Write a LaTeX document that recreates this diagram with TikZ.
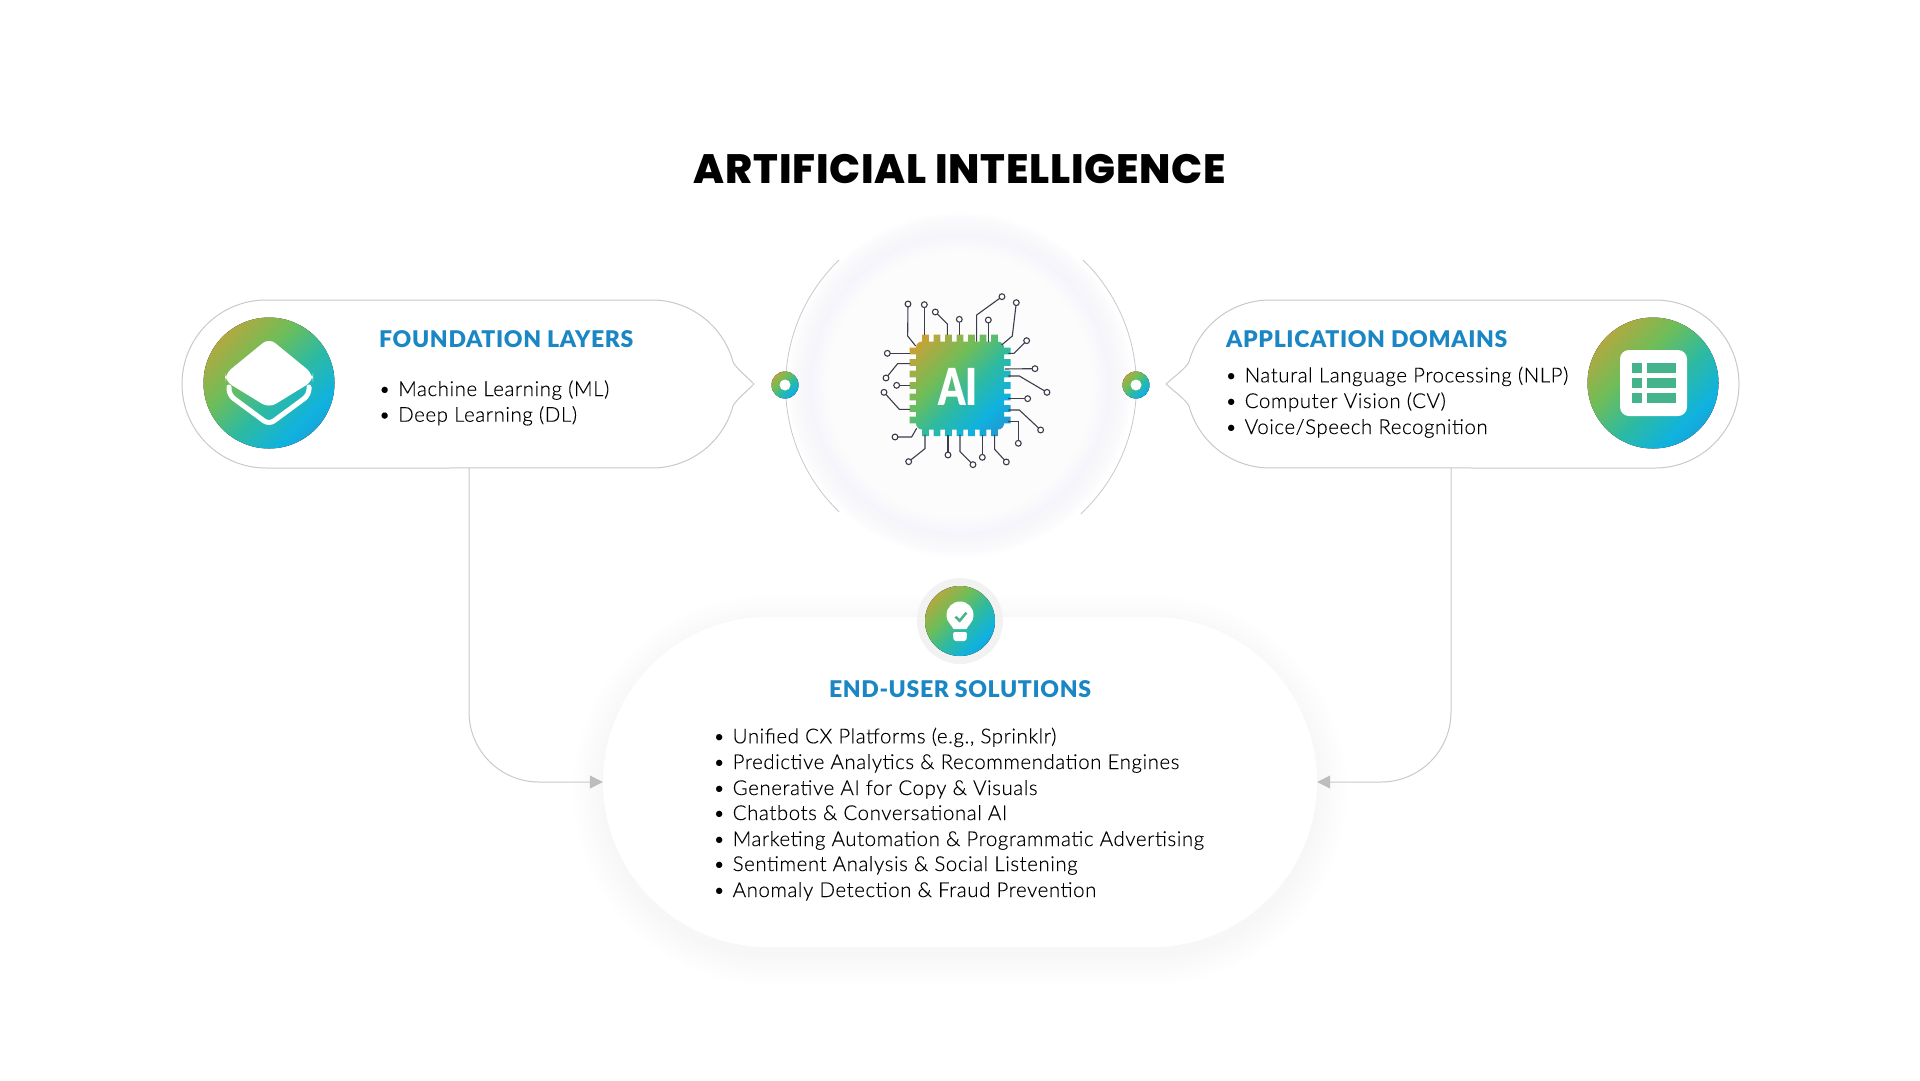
\documentclass[tikz,border=0pt]{standalone}
\usepackage{fontspec}
\setmainfont{Lato}
\newfontfamily\lightfont[LetterSpace=2.7,FakeBold=0.15]{Lato Light}
\newfontfamily\heavyfont[LetterSpace=2.8]{Lato Black}
\newfontfamily\chipfont{Lato Black}
\newfontfamily\blackfont[LetterSpace=1.85]{Poppins ExtraBold}
\usepackage{tikz}
\usetikzlibrary{arrows.meta}
\usetikzlibrary{positioning}
\definecolor{headblue}{HTML}{1A86C4}
\definecolor{lineblack}{HTML}{3C3C4A}
\definecolor{pillgrey}{HTML}{C9C9C9}
\definecolor{arrowgrey}{HTML}{BDBDBD}
\definecolor{glowlav}{HTML}{E9E9FB}
\definecolor{iconteal}{HTML}{45B48C}
\definecolor{gradgold}{HTML}{D89B28}
\definecolor{gradolive}{HTML}{B5A83F}
\definecolor{gradgreen}{HTML}{6FBD58}
\definecolor{gradteal}{HTML}{2EBAA0}
\definecolor{gradsky}{HTML}{0FB2E0}
\definecolor{graddeep}{HTML}{2A8CC8}
\pgfdeclarehorizontalshading{aigrad}{100bp}{color(0bp)=(gradgold);color(18bp)=(gradgold);
  color(24bp)=(gradolive);color(40bp)=(gradgreen);
  color(55bp)=(gradteal);color(70bp)=(gradsky);
  color(85bp)=(graddeep);color(100bp)=(graddeep)}
\tikzset{
  aifill/.style={shading=aigrad, shading angle=-45},
  pill/.style={draw=pillgrey, line width=1pt, fill=white},
  flow/.style={draw=pillgrey, line width=1pt, rounded corners=70pt, -{Triangle[length=13pt,width=13pt,fill=arrowgrey,color=arrowgrey]}},
  headtext/.style={anchor=base west, inner sep=0, text=headblue, font=\fontsize{23}{23}\selectfont\heavyfont},
  bodytext/.style={anchor=base west, inner sep=0, text=black, font=\fontsize{20.5}{20.5}\selectfont\lightfont},
  trace/.style={draw=lineblack, line width=1.1pt},
  pad/.style={draw=lineblack, line width=1.1pt, fill=white}
}
\newcommand\bulleted[1]{\makebox[19.5pt][l]{•}#1}
\newcommand\ringdot[1]{
  \fill[aifill] #1 circle (13.5pt);
  \fill[white] #1 circle (5.5pt);
}
\begin{document}
\begin{tikzpicture}[x=1pt, y=1pt]
  \useasboundingbox (0,0) rectangle (1920,-1080);
  \fill[white] (0,0) rectangle (1920,-1080);

  \foreach \g in {172,169,...,145}
    \fill[glowlav, opacity=0.05] (960,-385) circle (\g pt);
  \foreach \g in {148,145,...,127}
    \fill[white, opacity=0.25] (960,-385) circle (\g pt);
  \draw[pillgrey, line width=0.8pt] (839,-260) arc (134:226:175);
  \draw[pillgrey, line width=0.8pt] (1083,-260) arc (46:-47:175);

  \draw[pill] (266,-300) -- (652,-300) arc (90:15.2:84)
    .. controls (736,-368) and (746,-376) .. (754,-384)
    .. controls (746,-392) and (736,-400) .. (733,-406)
    arc (-15.2:-90:84) -- (266,-468) arc (270:90:84) -- cycle;
  \draw[pill] (1655,-300) -- (1270,-300) arc (90:164.8:84)
    .. controls (1186,-368) and (1175,-376) .. (1166,-384)
    .. controls (1175,-392) and (1186,-400) .. (1189,-406)
    arc (195.2:270:84) -- (1655,-468) arc (-90:90:84) -- cycle;
  \coordinate (foundout) at (469,-468);
  \coordinate (appout) at (1451,-468);

  \foreach \g in {2,6,...,30}
    \fill[black, opacity=0.004, rounded corners={(165+\g)*1pt}] (603-\g,-617+\g-8) rectangle (1317+\g,-947-\g-8);
  \node[fill=white, rounded corners=165pt, minimum width=714pt, minimum height=330pt, inner sep=0] (solutions) at (960,-782) {};

  \draw[flow] (foundout) |- (solutions.west);
  \draw[flow] (appout) |- (solutions.east);

  \ringdot{(785,-385)}
  \ringdot{(1136,-385)}

  \fill[aifill] (269,-383) circle (65.5pt);
  \fill[aifill] (1653,-383) circle (65.5pt);
  \fill[black!5] (960,-621) circle (43pt);
  \fill[aifill] (960,-621) circle (35pt);

  \fill[white, rounded corners=8pt] (269,-338) -- (313,-374) -- (313,-381) -- (269,-408) -- (225,-381) -- (225,-374) -- cycle;
  \draw[white, line width=5pt, rounded corners=6pt, line cap=round] (229,-387) -- (229,-395) -- (269,-424.5) -- (309,-395) -- (309,-387);

  \fill[white, rounded corners=9pt] (1620,-350) rectangle (1687,-416);
  \foreach \y in {-363,-378,-393} {
    \fill[iconteal] (1632,\y) rectangle (1642,\y-10);
    \fill[iconteal] (1647,\y) rectangle (1676,\y-10);
  }

  \fill[white] (960,-615) circle (13.5pt);
  \fill[white] (949,-622) -- (971,-622) -- (966.5,-629) -- (953.5,-629) -- cycle;
  \fill[white, rounded corners=2pt] (953,-632) -- (967,-632) -- (966.5,-641) -- (953.5,-641) -- cycle;
  \draw[iconteal, line width=2.5pt] (955.4,-616.7) -- (959.7,-620.7) -- (966.4,-612.7);

  \path[aifill] [rounded corners=6pt] (916,-341.5) rectangle (1004,-429.5) [sharp corners]
    \foreach \k in {-3,...,3} {
      (960+\k*11.5-3.4,-334.5) rectangle (960+\k*11.5+3.4,-345)
      (960+\k*11.5-3.4,-425) rectangle (960+\k*11.5+3.4,-436)
      (909.5,-385.5+\k*11.5+3.4) rectangle (920,-385.5+\k*11.5-3.4)
      (1000,-385.5+\k*11.5+3.4) rectangle (1010.5,-385.5+\k*11.5-3.4)
    };
  \node[inner sep=0, text=white, font=\fontsize{51}{51}\selectfont\chipfont] (chiptext) at (958,-387) {\scalebox{0.76}[1]{AI}};

  \begin{scope}[shift={(760,-220)}, x=0.3333pt, y=-0.3333pt]
    \foreach \ax/\ay/\bx/\by/\cx/\cy in {
      467/378/443/348/444/252, 562/345/562/312/526/276, 650/365/650/285/726/230,
      725/375/757/348/769/248, 745/400/762/400/800/362, 745/468/778/468/861/517,
      745/570/778/570/842/630, 745/605/775/605/775/670, 704/645/704/688/739/726,
      600/645/600/695/639/734, 495/645/495/686/446/725, 470/625/455/651/405/651,
      450/568/418/568/372/517, 450/431/413/431/378/474} {
      \draw[trace] (\ax,\ay) -- (\bx,\by) -- (\cx,\cy);
      \filldraw[pad] (\cx,\cy) circle (2.9pt);
    }
    \foreach \ax/\ay/\cx/\cy in {
      493/345/493/254, 598/345/598/298, 685/365/685/300, 735/447/825/446,
      745/536/803/536, 667/645/667/712, 564/645/564/705, 450/496/410/496, 450/400/382/400} {
      \draw[trace] (\ax,\ay) -- (\cx,\cy);
      \filldraw[pad] (\cx,\cy) circle (2.9pt);
    }
  \end{scope}

  \node[inner sep=0, anchor=base, font=\fontsize{41}{41}\selectfont\blackfont] (maintitle) at (960,-183.3) {ARTIFICIAL INTELLIGENCE};

  \node[headtext] (foundtitle) at (379,-347.5) {FOUNDATION LAYERS};
  \node[bodytext] (found1) at (378.5,-396) {\bulleted{Machine Learning (ML)}};
  \node[bodytext] (found2) at (378.5,-421.7) {\bulleted{Deep Learning (DL)}};

  \node[headtext] (apptitle) at (1226,-347.5) {APPLICATION DOMAINS};
  \node[bodytext] (app1) at (1225,-382.3) {\bulleted{Natural Language Processing (NLP)}};
  \node[bodytext] (app2) at (1225,-408) {\bulleted{Computer Vision (CV)}};
  \node[bodytext] (app3) at (1225,-434) {\bulleted{Voice/Speech Recognition}};

  \node[headtext, anchor=base] (soltitle) at (960,-697.5) {END-USER SOLUTIONS};
  \node[bodytext] (sol1) at (713,-743.3) {\bulleted{Unified CX Platforms (e.g., Sprinklr)}};
  \node[bodytext] (sol2) at (713,-769) {\bulleted{Predictive Analytics \& Recommendation Engines}};
  \node[bodytext] (sol3) at (713,-795) {\bulleted{Generative AI for Copy \& Visuals}};
  \node[bodytext] (sol4) at (713,-820) {\bulleted{Chatbots \& Conversational AI}};
  \node[bodytext] (sol5) at (713,-846) {\bulleted{Marketing Automation \& Programmatic Advertising}};
  \node[bodytext] (sol6) at (713,-871) {\bulleted{Sentiment Analysis \& Social Listening}};
  \node[bodytext] (sol7) at (713,-897) {\bulleted{Anomaly Detection \& Fraud Prevention}};
\end{tikzpicture}
\end{document}
